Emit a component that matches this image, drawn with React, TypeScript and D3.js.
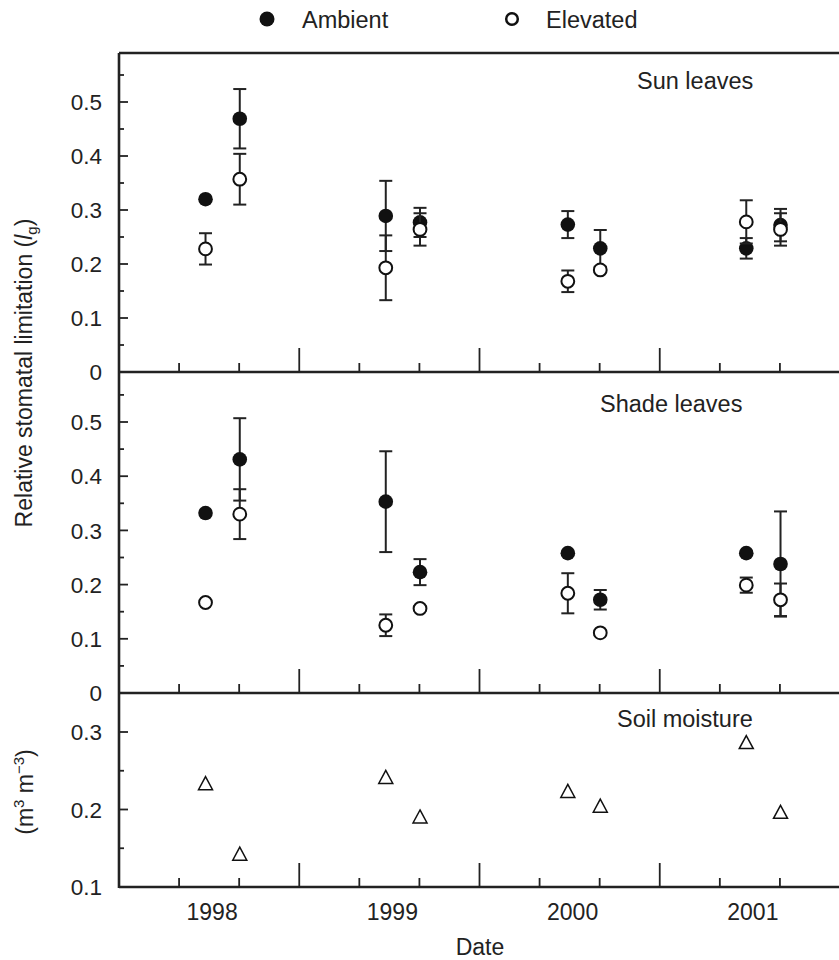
import React from "react";
import * as d3 from "d3";

// ---- data ----
const dates = [1998.48, 1998.67, 1999.48, 1999.67, 2000.49, 2000.67, 2001.48, 2001.67];

const sunAmbient = [0.320, 0.469, 0.289, 0.277, 0.273, 0.229, 0.229, 0.272];
const sunAmbientErr = [0.003, 0.055, 0.065, 0.027, 0.025, 0.034, 0.019, 0.03];
const sunElevated = [0.228, 0.357, 0.193, 0.264, 0.168, 0.189, 0.278, 0.264];
const sunElevatedErr = [0.029, 0.047, 0.06, 0.03, 0.02, 0.004, 0.04, 0.03];

const shadeAmbient = [0.332, 0.431, 0.353, 0.223, 0.258, 0.172, 0.258, 0.238];
const shadeAmbientErr = [0.003, 0.076, 0.093, 0.024, 0.003, 0.018, 0.003, 0.097];
const shadeElevated = [0.167, 0.330, 0.125, 0.156, 0.184, 0.111, 0.199, 0.172];
const shadeElevatedErr = [0.004, 0.046, 0.02, 0.004, 0.037, 0.004, 0.014, 0.03];

const soilMoisture = [0.234, 0.143, 0.242, 0.191, 0.224, 0.205, 0.287, 0.197];

const yearLabels = [1998, 1999, 2000, 2001];
const leafTicks = [0, 0.1, 0.2, 0.3, 0.4, 0.5];
const leafMinor = [0.05, 0.15, 0.25, 0.35, 0.45, 0.55];
const soilTicks = [0.1, 0.2, 0.3];
const soilMinor = [0.15, 0.25];

const INK = "#222";
const FONT = "'Liberation Sans', Arial, Helvetica, sans-serif";

export default function App() {
  const W = 839, H = 960;
  const x0 = 119, x1 = 840;
  const x = d3.scaleLinear().domain([1998, 2002]).range([x0, x1]);
  const yTop = d3.scaleLinear().domain([0, 0.5]).range([372, 102]);
  const yMid = d3.scaleLinear().domain([0, 0.5]).range([693, 422]);
  const yBot = d3.scaleLinear().domain([0.1, 0.3]).range([887, 732]);
  const fmt = (v: number) => (v === 0 ? "0" : d3.format(".1f")(v));

  const xTicks = d3.range(1, 13).map((i) => ({ v: 1998 + i / 3, major: i % 3 === 0 }));
  const panelBottoms = [372, 693, 887];

  const errBars = (means: number[], errs: number[], y: any, key: string) =>
    means.map((m, i) => {
      const cx = x(dates[i]);
      const yt = y(m + errs[i]);
      const yb = y(m - errs[i]);
      return (
        <g key={key + i} stroke={INK} strokeWidth={2}>
          <line x1={cx} x2={cx} y1={yt} y2={yb} />
          <line x1={cx - 6.5} x2={cx + 6.5} y1={yt} y2={yt} />
          <line x1={cx - 6.5} x2={cx + 6.5} y1={yb} y2={yb} />
        </g>
      );
    });

  const leafPanel = (amb: number[], ambE: number[], ele: number[], eleE: number[], y: any, key: string) => (
    <g key={key}>
      {errBars(amb, ambE, y, key + "ae")}
      {amb.map((m, i) => (
        <circle key={key + "a" + i} cx={x(dates[i])} cy={y(m)} r={7.3} fill="#111" />
      ))}
      {errBars(ele, eleE, y, key + "ee")}
      {ele.map((m, i) => (
        <circle key={key + "e" + i} cx={x(dates[i])} cy={y(m)} r={6.4} fill="#fff" stroke="#111" strokeWidth={2} />
      ))}
    </g>
  );

  const yAxisTicks = (y: any, major: number[], minor: number[], key: string, skipFirst: boolean) => (
    <g key={key}>
      {major.map((v, i) => (
        <g key={key + "M" + i}>
          {!(skipFirst && i === 0) && (
            <line x1={x0} x2={x0 + 9} y1={y(v)} y2={y(v)} stroke={INK} strokeWidth={1.8} />
          )}
          <text x={102} y={y(v)} dy="0.36em" textAnchor="end" fontSize={22.5} fill={INK} fontFamily={FONT}>
            {fmt(v)}
          </text>
        </g>
      ))}
      {minor.map((v, i) => (
        <line key={key + "m" + i} x1={x0} x2={x0 + 5} y1={y(v)} y2={y(v)} stroke={INK} strokeWidth={1.8} />
      ))}
    </g>
  );

  return (
    <svg width={W} height={H} style={{ position: "absolute", left: 0, top: 0, display: "block", background: "#fff" }}>
      {/* legend */}
      <circle cx={267} cy={19} r={7.5} fill="#111" />
      <text x={302} y={28} fontSize={23.5} fill={INK} fontFamily={FONT}>Ambient</text>
      <circle cx={512} cy={19} r={5.8} fill="#fff" stroke="#111" strokeWidth={2.5} />
      <text x={546} y={28} fontSize={23.5} fill={INK} fontFamily={FONT}>Elevated</text>

      {/* frame */}
      <g stroke={INK} strokeWidth={2.6}>
        <line x1={x0} x2={W} y1={53} y2={53} />
        <line x1={x0} x2={x0} y1={53} y2={888} />
        {panelBottoms.map((yb) => (
          <line key={"pb" + yb} x1={x0} x2={W} y1={yb} y2={yb} />
        ))}
      </g>

      {/* x ticks on each panel bottom */}
      {panelBottoms.map((yb) =>
        xTicks.map((t, i) => (
          <line
            key={"xt" + yb + "-" + i}
            x1={x(t.v)}
            x2={x(t.v)}
            y1={yb}
            y2={yb - (t.major ? 24 : 9)}
            stroke={INK}
            strokeWidth={1.8}
          />
        ))
      )}

      {/* y ticks */}
      {yAxisTicks(yTop, leafTicks, leafMinor, "yt", true)}
      {yAxisTicks(yMid, leafTicks, leafMinor, "ym", true)}
      {yAxisTicks(yBot, soilTicks, soilMinor, "yb", true)}

      {/* panel labels */}
      <text x={637} y={89} fontSize={23.5} fill={INK} fontFamily={FONT}>Sun leaves</text>
      <text x={600} y={412} fontSize={23.5} fill={INK} fontFamily={FONT}>Shade leaves</text>
      <text x={617} y={727} fontSize={23.5} fill={INK} fontFamily={FONT}>Soil moisture</text>

      {/* data */}
      {leafPanel(sunAmbient, sunAmbientErr, sunElevated, sunElevatedErr, yTop, "sun")}
      {leafPanel(shadeAmbient, shadeAmbientErr, shadeElevated, shadeElevatedErr, yMid, "shade")}
      {soilMoisture.map((v, i) => {
        const cx = x(dates[i]);
        const cy = yBot(v);
        const p = `M${cx},${cy - 6.5} L${cx + 7},${cy + 6.5} L${cx - 7},${cy + 6.5} Z`;
        return <path key={"soil" + i} d={p} fill="none" stroke="#111" strokeWidth={1.5} />;
      })}

      {/* x labels */}
      {yearLabels.map((yr) => (
        <text key={"yr" + yr} x={x(yr + 0.5) + 3} y={920} textAnchor="middle" fontSize={23} fill={INK} fontFamily={FONT}>
          {yr}
        </text>
      ))}
      <text x={480} y={955} textAnchor="middle" fontSize={23} fill={INK} fontFamily={FONT}>Date</text>

      {/* y labels */}
      <text transform="translate(32,373) rotate(-90)" textAnchor="middle" fontSize={23} fill={INK} fontFamily={FONT}>
        Relative stomatal limitation (<tspan fontStyle="italic">l</tspan>
        <tspan fontSize={15} dy={5}>g</tspan>
        <tspan dy={-5}>)</tspan>
      </text>
      <text transform="translate(33,792) rotate(-90)" textAnchor="middle" fontSize={23} fill={INK} fontFamily={FONT}>
        (m<tspan fontSize={15} dy={-9}>3</tspan>
        <tspan dy={9}> m</tspan>
        <tspan fontSize={15} dy={-9}>−3</tspan>
        <tspan dy={9}>)</tspan>
      </text>
    </svg>
  );
}
